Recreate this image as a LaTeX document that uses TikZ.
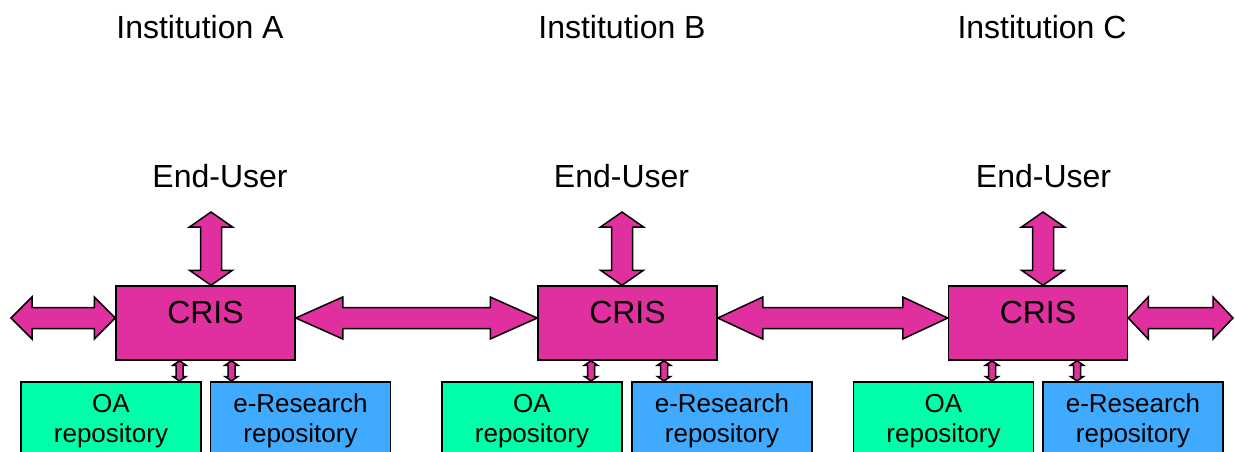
\documentclass[tikz,border=0pt]{standalone}
\usepackage{fontspec}
\setmainfont{Liberation Sans}
\usetikzlibrary{calc,backgrounds}

\definecolor{crispink}{RGB}{224,48,160}
\definecolor{oagreen}{RGB}{0,255,170}
\definecolor{resblue}{RGB}{64,170,255}

% horizontal double block arrow: left tip, right tip, head length, head half-height, shaft half-height
\newcommand{\blockarrowH}[5]{%
  \filldraw[blockarrow] (#1) -- ($(#1)+(#3,-#4)$) -- ($(#1)+(#3,-#5)$)
    -- ($(#2)+(-#3,-#5)$) -- ($(#2)+(-#3,-#4)$) -- (#2)
    -- ($(#2)+(-#3,#4)$) -- ($(#2)+(-#3,#5)$)
    -- ($(#1)+(#3,#5)$) -- ($(#1)+(#3,#4)$) -- cycle;}
% vertical double block arrow: top tip, bottom tip, head length, head half-width, shaft half-width
\newcommand{\blockarrowV}[5]{%
  \filldraw[blockarrow] (#1) -- ($(#1)+(-#4,#3)$) -- ($(#1)+(-#5,#3)$)
    -- ($(#2)+(-#5,-#3)$) -- ($(#2)+(-#4,-#3)$) -- (#2)
    -- ($(#2)+(#4,-#3)$) -- ($(#2)+(#5,-#3)$)
    -- ($(#1)+(#5,#3)$) -- ($(#1)+(#4,#3)$) -- cycle;}

\begin{document}
\begin{tikzpicture}[x=1pt,y=-1pt,
  outline/.style={draw=black,line width=1.5pt},
  crisbox/.style={outline,fill=crispink,minimum width=179pt,minimum height=74pt,inner sep=0pt},
  repobox/.style={outline,minimum width=180pt,minimum height=90pt,inner sep=0pt,anchor=north},
  bigtext/.style={font=\fontsize{32}{38}\selectfont,anchor=base,inner sep=0pt},
  repotext/.style={font=\fontsize{26}{30}\selectfont,align=center,inner sep=0pt},
  blockarrow/.style={outline,fill=crispink,line join=miter},
]
\useasboundingbox (0,0) rectangle (1235,451);
\clip (0,0) rectangle (1235,451);

\foreach \n/\inst/\cx/\ix/\ex/\ax/\oax/\erx/\sa/\sb in {
  A/Institution A/205.5/200/220/211/111/300.5/179.5/231.5,
  B/Institution B/627.5/622/621.5/622/532/722/591/664,
  C/Institution C/1038/1042/1043.5/1043/943.5/1133/992/1077}
{
  \node[bigtext] (inst\n) at (\ix,38) {\inst};
  \node[bigtext] (user\n) at (\ex,187) {End-User};
  \node[crisbox] (cris\n) at (\cx,323) {};
  \node[bigtext] (crislabel\n) at (cris\n.center) {CRIS};
  \node[repobox,fill=oagreen] (oa\n) at (\oax,381) {};
  \node[repotext] (oalabel\n) at (\oax,421) {OA\\repository};
  \node[repobox,fill=resblue] (er\n) at (\erx,381) {};
  \node[repotext] (erlabel\n) at (\erx,421) {e-Research\\repository};
  % anchor points for the connectors
  \coordinate (w\n) at ($(cris\n.west)+(0,-5)$);
  \coordinate (e\n) at ($(cris\n.east)+(0,-5)$);
  \coordinate (top\n) at (\ax,212);
  \coordinate (topbase\n) at (top\n |- cris\n.north);
  \coordinate (sax\n) at (\sa,0);
  \coordinate (sbx\n) at (\sb,0);
  \coordinate (saT\n) at (cris\n.south -| sax\n);
  \coordinate (saB\n) at (oa\n.north -| sax\n);
  \coordinate (sbT\n) at (cris\n.south -| sbx\n);
  \coordinate (sbB\n) at (oa\n.north -| sbx\n);
}
\coordinate (leftend) at (11,318);
\coordinate (rightend) at (1233,318);

\begin{scope}[on background layer]
  \blockarrowH{leftend}{wA}{21}{21}{10.5}
  \blockarrowH{eA}{wB}{47}{21}{10.5}
  \blockarrowH{eB}{wC}{45}{21}{10.5}
  \blockarrowH{eC}{rightend}{20}{21}{10.5}
  \foreach \n in {A,B,C}{
    \blockarrowV{top\n}{topbase\n}{15}{21.5}{10.5}
    \blockarrowV{saT\n}{saB\n}{4.5}{6.5}{3.5}
    \blockarrowV{sbT\n}{sbB\n}{4.5}{6.5}{3.5}
  }
\end{scope}
\end{tikzpicture}
\end{document}
